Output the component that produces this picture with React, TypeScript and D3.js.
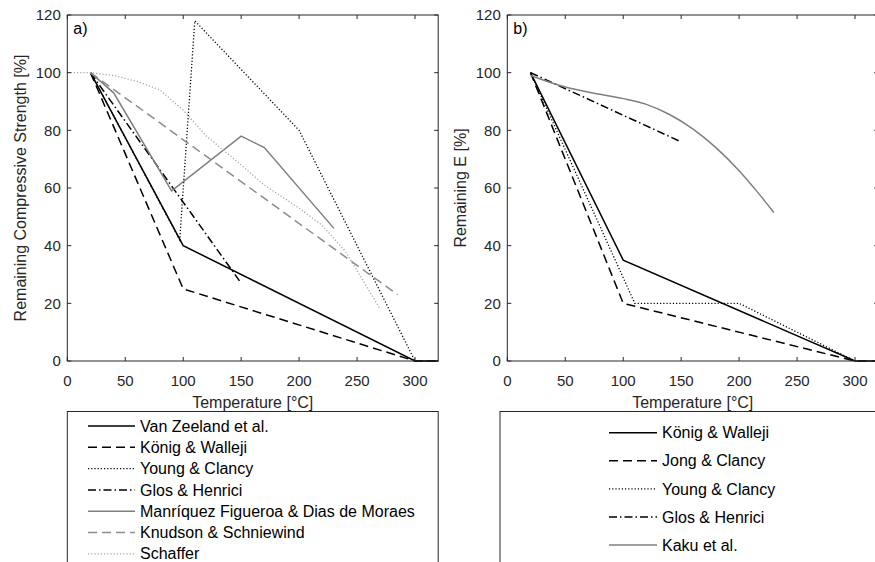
import { useEffect, useRef } from 'react';
import * as d3 from 'd3';

type Pt = [number, number];

// panel a) remaining compressive strength
const vanZeeland: Pt[] = [[20, 100], [100, 40], [300, 0], [320, 0]];
const konigA: Pt[] = [[20, 100], [100, 25], [300, 0], [320, 0]];
const youngA: Pt[] = [[20, 100], [97, 42], [110, 118], [200, 80], [300, 0], [320, 0]];
const glosA: Pt[] = [[20, 100], [150, 27]];
const manriquez: Pt[] = [[20, 100], [40, 93], [90, 59], [150, 78], [170, 74], [230, 46]];
const knudson: Pt[] = [[20, 100], [285, 23]];
const schaffer: Pt[] = [[0, 100], [20, 100], [40, 99], [60, 97], [80, 94], [100, 87], [120, 78], [150, 68], [170, 61], [200, 53], [220, 47], [240, 38], [270, 18]];

// panel b) remaining E
const konigB: Pt[] = [[20, 100], [100, 35], [300, 0], [320, 0]];
const jongB: Pt[] = [[20, 100], [100, 20], [300, 0], [320, 0]];
const youngB: Pt[] = [[20, 100], [110, 20], [200, 20], [300, 0]];
const glosB: Pt[] = [[20, 100], [150, 76]];
const kaku: Pt[] = [[20, 99], [50, 95], [80, 92.5], [100, 91], [120, 89], [140, 85.5], [160, 80.5], [180, 74], [200, 66], [215, 59], [230, 51.5]];

const xTicks = [0, 50, 100, 150, 200, 250, 300];
const yTicks = [0, 20, 40, 60, 80, 100, 120];

const labelsA = ['Van Zeeland et al.', 'König & Walleji', 'Young & Clancy', 'Glos & Henrici', 'Manríquez Figueroa & Dias de Moraes', 'Knudson & Schniewind', 'Schaffer'];
const labelsB = ['König & Walleji', 'Jong & Clancy', 'Young & Clancy', 'Glos & Henrici', 'Kaku et al.'];

const styles: Record<string, { color: string; dash: string; w: number }> = {
  solid: { color: '#000', dash: 'none', w: 1.5 },
  dashed: { color: '#000', dash: '9,5', w: 1.5 },
  dotted: { color: '#000', dash: '1.2,2', w: 1.3 },
  dashdot: { color: '#000', dash: '8,3,1.5,3', w: 1.5 },
  graySolid: { color: '#7f7f7f', dash: 'none', w: 1.5 },
  grayDashed: { color: '#8c8c8c', dash: '9,5', w: 1.5 },
  grayDotted: { color: '#a6a6a6', dash: '1.2,2', w: 1.3 },
};

const seriesA = [
  { data: vanZeeland, s: 'solid', smooth: false },
  { data: konigA, s: 'dashed', smooth: false },
  { data: youngA, s: 'dotted', smooth: false },
  { data: glosA, s: 'dashdot', smooth: false },
  { data: manriquez, s: 'graySolid', smooth: false },
  { data: knudson, s: 'grayDashed', smooth: false },
  { data: schaffer, s: 'grayDotted', smooth: false },
];
const seriesB = [
  { data: konigB, s: 'solid', smooth: false },
  { data: jongB, s: 'dashed', smooth: false },
  { data: youngB, s: 'dotted', smooth: false },
  { data: glosB, s: 'dashdot', smooth: false },
  { data: kaku, s: 'graySolid', smooth: true },
];

const FONT = '"Liberation Sans", Arial, sans-serif';
const AX = '#262626';

const App = () => {
  const svgRef = useRef<SVGSVGElement>(null);

  useEffect(() => {
    const svg = d3.select(svgRef.current);
    svg.selectAll('*').remove();
    svg.append('rect').attr('width', 875).attr('height', 562).attr('fill', '#fff');

    const drawPanel = (left: number, series: typeof seriesA, ylabel: string, tag: string) => {
      const x = d3.scaleLinear().domain([0, 320]).range([left, left + 370.9]);
      const y = d3.scaleLinear().domain([0, 120]).range([361, 15]);
      const g = svg.append('g');

      series.forEach(({ data, s, smooth }) => {
        const st = styles[s];
        const line = d3.line<Pt>().x(d => x(d[0])).y(d => y(d[1]))
          .curve(smooth ? d3.curveMonotoneX : d3.curveLinear);
        g.append('path')
          .attr('d', line(data))
          .attr('fill', 'none')
          .attr('stroke', st.color)
          .attr('stroke-width', st.w)
          .attr('stroke-dasharray', st.dash);
      });

      // box
      g.append('rect')
        .attr('x', x(0)).attr('y', y(120))
        .attr('width', x(320) - x(0)).attr('height', y(0) - y(120))
        .attr('fill', 'none').attr('stroke', AX).attr('stroke-width', 1);

      // ticks inside on all four sides
      xTicks.forEach(t => {
        g.append('line').attr('x1', x(t)).attr('x2', x(t)).attr('y1', y(0)).attr('y2', y(0) - 4).attr('stroke', AX);
        g.append('line').attr('x1', x(t)).attr('x2', x(t)).attr('y1', y(120)).attr('y2', y(120) + 4).attr('stroke', AX);
        g.append('text').attr('x', x(t)).attr('y', 385.5).attr('text-anchor', 'middle')
          .attr('font-family', FONT).attr('font-size', 15).attr('fill', AX).text(t);
      });
      yTicks.forEach(t => {
        g.append('line').attr('x1', x(0)).attr('x2', x(0) + 4).attr('y1', y(t)).attr('y2', y(t)).attr('stroke', AX);
        g.append('line').attr('x1', x(320)).attr('x2', x(320) - 4).attr('y1', y(t)).attr('y2', y(t)).attr('stroke', AX);
        g.append('text').attr('x', x(0) - 6.5).attr('y', y(t)).attr('dy', '0.35em').attr('text-anchor', 'end')
          .attr('font-family', FONT).attr('font-size', 15).attr('fill', AX).text(t);
      });

      g.append('text').attr('x', (x(0) + x(320)) / 2).attr('y', 407.5).attr('text-anchor', 'middle')
        .attr('font-family', FONT).attr('font-size', 16).attr('fill', AX).text('Temperature [°C]');
      g.append('text').attr('transform', `translate(${left - 41},${(y(0) + y(120)) / 2}) rotate(-90)`)
        .attr('text-anchor', 'middle').attr('font-family', FONT).attr('font-size', 16).attr('fill', AX).text(ylabel);
      g.append('text').attr('x', x(0) + 6).attr('y', 34)
        .attr('font-family', FONT).attr('font-size', 16).attr('fill', '#000').text(tag);
    };

    drawPanel(67.3, seriesA, 'Remaining Compressive Strength [%]', 'a)');
    drawPanel(507.3, seriesB, 'Remaining E [%]', 'b)');

    const drawLegend = (bx: number, bw: number, rows: number[], lx1: number, lx2: number, labels: string[], series: typeof seriesA) => {
      const g = svg.append('g');
      g.append('rect').attr('x', bx).attr('y', 411.5).attr('width', bw).attr('height', 200)
        .attr('fill', '#fff').attr('stroke', AX).attr('stroke-width', 1);
      labels.forEach((lab, i) => {
        const st = styles[series[i].s];
        g.append('line').attr('x1', lx1).attr('x2', lx2).attr('y1', rows[i]).attr('y2', rows[i])
          .attr('stroke', st.color).attr('stroke-width', st.w).attr('stroke-dasharray', st.dash);
        g.append('text').attr('x', lx2 + 5).attr('y', rows[i]).attr('dy', '0.35em')
          .attr('font-family', FONT).attr('font-size', 16).attr('fill', '#000').text(lab);
      });
    };

    drawLegend(67.3, 370.9, d3.range(7).map(i => 426 + i * 21.3), 88, 135, labelsA, seriesA);
    drawLegend(500, 400, d3.range(5).map(i => 432.7 + i * 28.1), 609, 657, labelsB, seriesB);
  }, []);

  return (
    <svg ref={svgRef} width={875} height={562} style={{ position: 'absolute', left: 0, top: 0, display: 'block' }} />
  );
};

export default App;
